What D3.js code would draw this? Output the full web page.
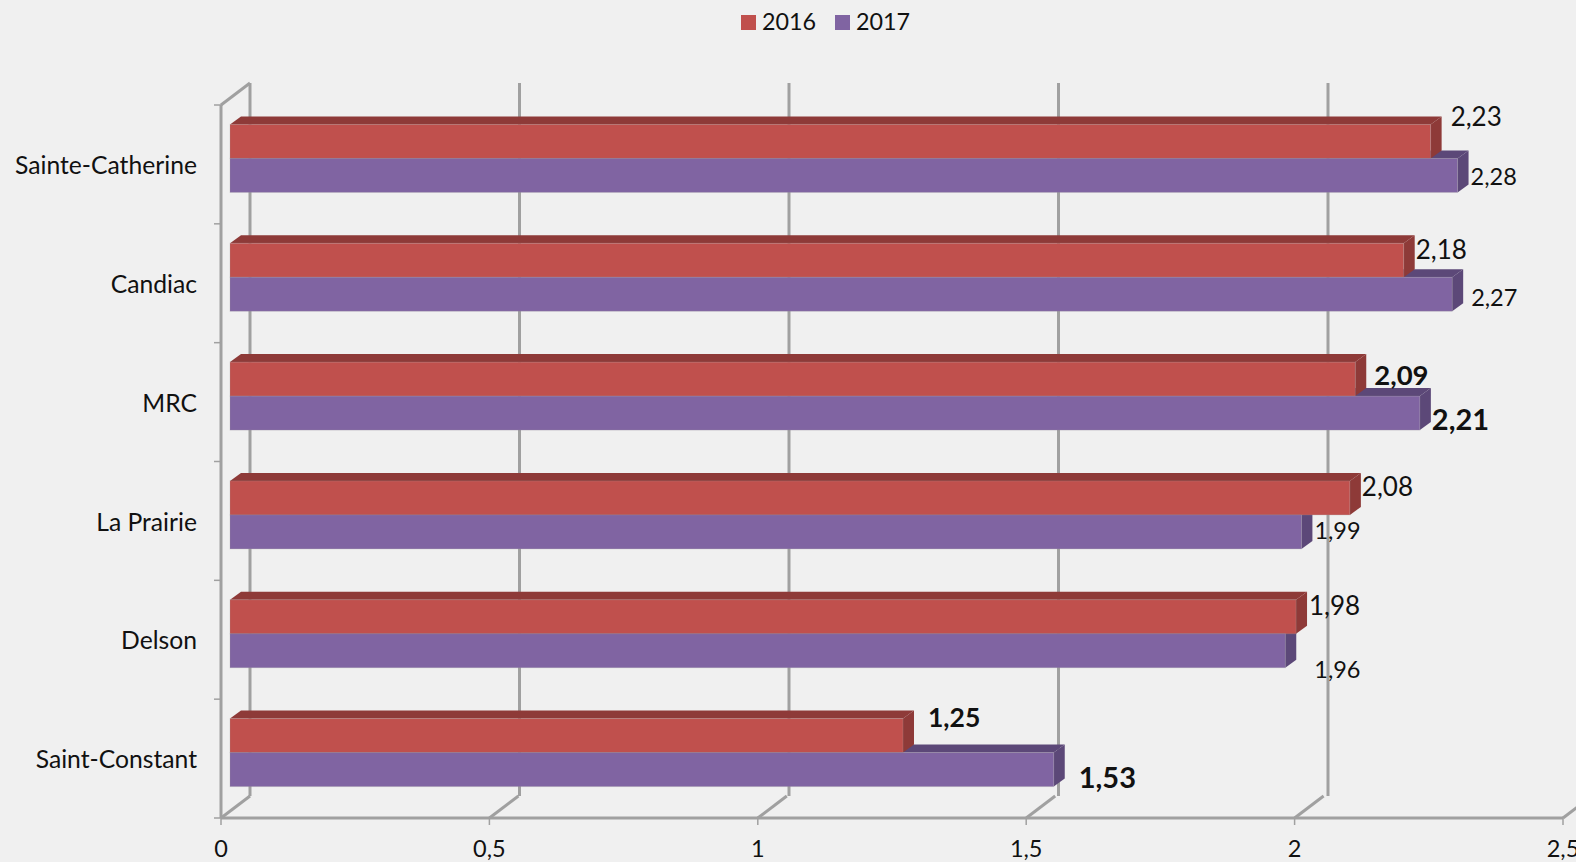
<!DOCTYPE html>
<html>
<head>
<meta charset="utf-8">
<script src="https://cdn.jsdelivr.net/npm/d3@7"></script>
<style>
	html, body { margin: 0; padding: 0; background: #F0F0F0; overflow: hidden; }
	text { font-family: Lato, sans-serif; fill: #111; }
</style>
</head>
<body>
<svg id="chart" width="1576" height="862"></svg>
<script>
'use strict';

var categories = ['Sainte-Catherine', 'Candiac', 'MRC', 'La Prairie', 'Delson', 'Saint-Constant'];
var values_2016 = [2.23, 2.18, 2.09, 2.08, 1.98, 1.25];
var values_2017 = [2.28, 2.27, 2.21, 1.99, 1.96, 1.53];
var x_ticks = [0, 0.5, 1, 1.5, 2, 2.5];
var x_tick_labels = ['0', '0,5', '1', '1,5', '2', '2,5'];

// The value labels were placed by hand in the original, so each one has its own nudge
var label_nudge_2016 = [[20, -25], [12, -10], [19, -4], [12, -11], [13, -11], [25, -18]];
var label_nudge_2017 = [[13, 1], [19, 4], [12, 7], [13, -1], [29, 19], [25, 8]];
var label_size_2016 = [26, 26, 27.5, 26, 26, 26.5];
var label_size_2017 = [23.5, 23.5, 29, 23.5, 23.5, 29];
var label_bold_2016 = [false, false, true, false, false, true];
var label_bold_2017 = [false, false, true, false, false, true];

var series = [
	{name: '2016', values: values_2016, front: '#C0504D', dark: '#8E3A38', nudge: label_nudge_2016, size: label_size_2016, bold: label_bold_2016},
	{name: '2017', values: values_2017, front: '#8064A2', dark: '#5C4878', nudge: label_nudge_2017, size: label_size_2017, bold: label_bold_2017}
];

var AXIS_COLOUR = '#A0A0A0';
var DEPTH_X = 11, DEPTH_Y = 8; // extrusion of the bars
var WALL_X = 29, WALL_Y = 22;  // offset of the back wall from the floor front

var svg = d3.select('#chart');

// The front floor edge and the bar plane are not quite the same scale in the 3d projection
var x_floor = d3.scaleLinear().domain([0, 2.5]).range([221, 1563]);
var x_wall = d3.scaleLinear().domain([0, 2.5]).range([250, 1597.5]);
var x_bar = d3.scaleLinear().domain([0, 2.5]).range([230, 1576]);
var y_band = d3.scaleBand().domain(categories).range([105, 818]);
var y_bar = d3.scaleBand().domain(['2016', '2017']).range([0, 68]);
var BAND_SHIFT = (y_band.bandwidth() - 68) / 2 - 6;

function polygon(parent, points, fill) {
	return parent.append('polygon')
		.attr('points', points.map(function(p) { return p.join(','); }).join(' '))
		.attr('fill', fill);
}

function axisLine(x1, y1, x2, y2, width) {
	svg.append('line')
		.attr('x1', x1).attr('y1', y1).attr('x2', x2).attr('y2', y2)
		.attr('stroke', AXIS_COLOUR)
		.attr('stroke-width', width);
}

//===============================================================
// Axes and back wall
//===============================================================

var floor_y = y_band.range()[1];
var top_y = y_band.range()[0];

x_ticks.forEach(function(t, i) {
	var fx = x_floor(t);
	// wall line and the diagonal going back from the floor
	if (x_wall(t) <= 1576) {
		axisLine(x_wall(t), top_y - WALL_Y, x_wall(t), floor_y - WALL_Y, 3);
	}
	axisLine(fx, floor_y, fx + WALL_X, floor_y - WALL_Y, 3);
	axisLine(fx, floor_y, fx, floor_y + 7, 1.5);
	svg.append('text')
		.attr('x', fx)
		.attr('y', 857)
		.attr('text-anchor', 'middle')
		.attr('font-size', 23.5)
		.text(x_tick_labels[i]);
});

axisLine(x_floor(0), top_y, x_floor(0), floor_y, 3);
axisLine(x_floor(0), top_y, x_wall(0), top_y - WALL_Y, 3);
axisLine(x_floor(0), floor_y, x_floor(2.5), floor_y, 3);

y_band.domain().forEach(function(c) {
	axisLine(214, y_band(c), x_floor(0), y_band(c), 1.5);
	svg.append('text')
		.attr('x', 197)
		.attr('y', y_band(c) + y_band.bandwidth() / 2 + 1)
		.attr('dy', '0.35em')
		.attr('text-anchor', 'end')
		.attr('font-size', 24.7)
		.text(c);
});
axisLine(214, floor_y, x_floor(0), floor_y, 1.5);

//===============================================================
// Bars, 2017 goes first so that the 2016 bar sits over its top face
//===============================================================

var groups = svg.selectAll('g.cat')
	.data(categories)
	.enter().append('g')
	.attr('class', 'cat')
	.attr('transform', function(c) { return 'translate(0,' + (y_band(c) + BAND_SHIFT) + ')'; });

groups.each(function(c, i) {
	var group = d3.select(this);
	var x0 = x_bar(0);
	series.slice().reverse().forEach(function(s) {
		var xe = x_bar(s.values[i]);
		var y0 = y_bar(s.name);
		var y1 = y0 + y_bar.bandwidth();
		polygon(group, [[x0, y0], [x0 + DEPTH_X, y0 - DEPTH_Y], [xe + DEPTH_X, y0 - DEPTH_Y], [xe, y0]], s.dark);
		polygon(group, [[xe, y0], [xe + DEPTH_X, y0 - DEPTH_Y], [xe + DEPTH_X, y1 - DEPTH_Y], [xe, y1]], s.dark);
	});
	series.forEach(function(s) {
		group.append('rect')
			.attr('x', x0)
			.attr('y', y_bar(s.name))
			.attr('width', x_bar(s.values[i]) - x0)
			.attr('height', y_bar.bandwidth())
			.attr('fill', s.front)
			.attr('stroke', '#A0A0A0')
			.attr('stroke-opacity', 0.25);
	});
	series.forEach(function(s) {
		group.append('text')
			.attr('x', x_bar(s.values[i]) + s.nudge[i][0])
			.attr('y', y_bar(s.name) + y_bar.bandwidth() / 2 + s.nudge[i][1])
			.attr('dy', '0.35em')
			.attr('font-size', s.size[i])
			.attr('font-weight', s.bold[i] ? 'bold' : 'normal')
			.text(String(s.values[i]).replace('.', ','));
	});
});

//===============================================================
// Legend
//===============================================================

var legend_x = [741, 835];
series.forEach(function(s, i) {
	svg.append('rect')
		.attr('x', legend_x[i])
		.attr('y', 15)
		.attr('width', 15)
		.attr('height', 15)
		.attr('fill', s.front);
	svg.append('text')
		.attr('x', legend_x[i] + 21)
		.attr('y', 22)
		.attr('dy', '0.35em')
		.attr('font-size', 23.3)
		.text(s.name);
});
</script>
</body>
</html>
